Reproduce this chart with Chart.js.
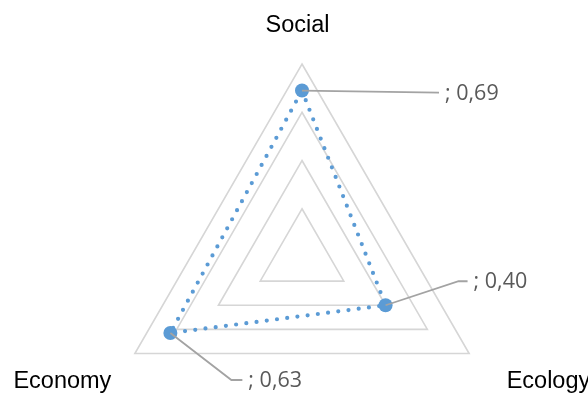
<!DOCTYPE html>
<html>
<head>
<meta charset="utf-8">
<script src="https://cdn.jsdelivr.net/npm/chart.js@4"></script>
<style>
  html, body { margin: 0; padding: 0; background: #ffffff; overflow: hidden; }
  #wrap { width: 588px; height: 394px; }
</style>
</head>
<body>
<div id="wrap"><canvas id="chart" width="588" height="394"></canvas></div>
<script>
// Dimensions of the assessment
const categories = ['Social', 'Ecology', 'Economy'];
// Scores per dimension
const scores = [0.69, 0.40, 0.63];
// Radial scale range and ring step
const scaleMin = 0;
const scaleMax = 0.8;
const ringStep = 0.2;

const blue = '#5b9bd5';

// Leader-line bends for each value label, relative to its point
const leaderPaths = [
  [[137, 2]],
  [[73, -24], [82, -24]],
  [[61, 47], [72, 47]]
];

function formatValue(v) {
  return '; ' + v.toFixed(2).replace('.', ',');
}

// Place the radar below centre so the triangle sits low in the canvas
const radarFrame = {
  id: 'radarFrame',
  afterLayout(chart) {
    const scale = chart.scales.r;
    scale.xCenter = 302;
    scale.yCenter = 257;
    scale.drawingArea = 193;
  }
};

// Category names placed around the outer ring
const axisTitles = {
  id: 'axisTitles',
  afterDraw(chart) {
    const scale = chart.scales.r;
    const ctx = chart.ctx;
    ctx.save();
    ctx.font = '23.5px "Liberation Sans", Arial, sans-serif';
    ctx.fillStyle = '#000000';
    ctx.textBaseline = 'alphabetic';
    categories.forEach((name, i) => {
      const p = scale.getPointPosition(i, scale.drawingArea);
      if (i === 0) {
        ctx.textAlign = 'center';
        ctx.fillText(name, p.x - 4.5, p.y - 32);
      } else if (i === 1) {
        ctx.textAlign = 'left';
        ctx.fillText(name, p.x + 37.5, p.y + 34.5);
      } else {
        ctx.textAlign = 'right';
        ctx.fillText(name, p.x - 23.5, p.y + 34.5);
      }
    });
    ctx.restore();
  }
};

// Value labels with grey leader lines
const valueLabels = {
  id: 'valueLabels',
  afterDatasetsDraw(chart) {
    const meta = chart.getDatasetMeta(0);
    const ctx = chart.ctx;
    ctx.save();
    ctx.strokeStyle = '#a3a3a3';
    ctx.lineWidth = 1.8;
    ctx.font = '21.5px "Open Sans", sans-serif';
    ctx.fillStyle = '#595959';
    ctx.textAlign = 'left';
    ctx.textBaseline = 'middle';
    meta.data.forEach((pt, i) => {
      const path = leaderPaths[i];
      ctx.beginPath();
      ctx.moveTo(pt.x, pt.y);
      path.forEach(([dx, dy]) => ctx.lineTo(pt.x + dx, pt.y + dy));
      ctx.stroke();
      const last = path[path.length - 1];
      ctx.fillText(formatValue(scores[i]), pt.x + last[0] + 6, pt.y + last[1] + 1);
    });
    ctx.restore();
  }
};

new Chart(document.getElementById('chart'), {
  type: 'radar',
  data: {
    labels: categories,
    datasets: [{
      data: scores,
      borderColor: blue,
      borderWidth: 4.2,
      borderDash: [0, 10.3],
      borderCapStyle: 'round',
      backgroundColor: 'transparent',
      fill: false,
      tension: 0,
      pointRadius: 7,
      pointHoverRadius: 7,
      pointBackgroundColor: blue,
      pointBorderWidth: 0
    }]
  },
  options: {
    responsive: false,
    animation: false,
    events: [],
    plugins: { legend: { display: false }, tooltip: { enabled: false } },
    scales: {
      r: {
        min: scaleMin,
        max: scaleMax,
        ticks: { display: false, stepSize: ringStep },
        angleLines: { display: false },
        grid: { color: '#d6d6d6', lineWidth: 1.6, circular: false },
        pointLabels: { display: false }
      }
    }
  },
  plugins: [radarFrame, axisTitles, valueLabels]
});
</script>
</body>
</html>
